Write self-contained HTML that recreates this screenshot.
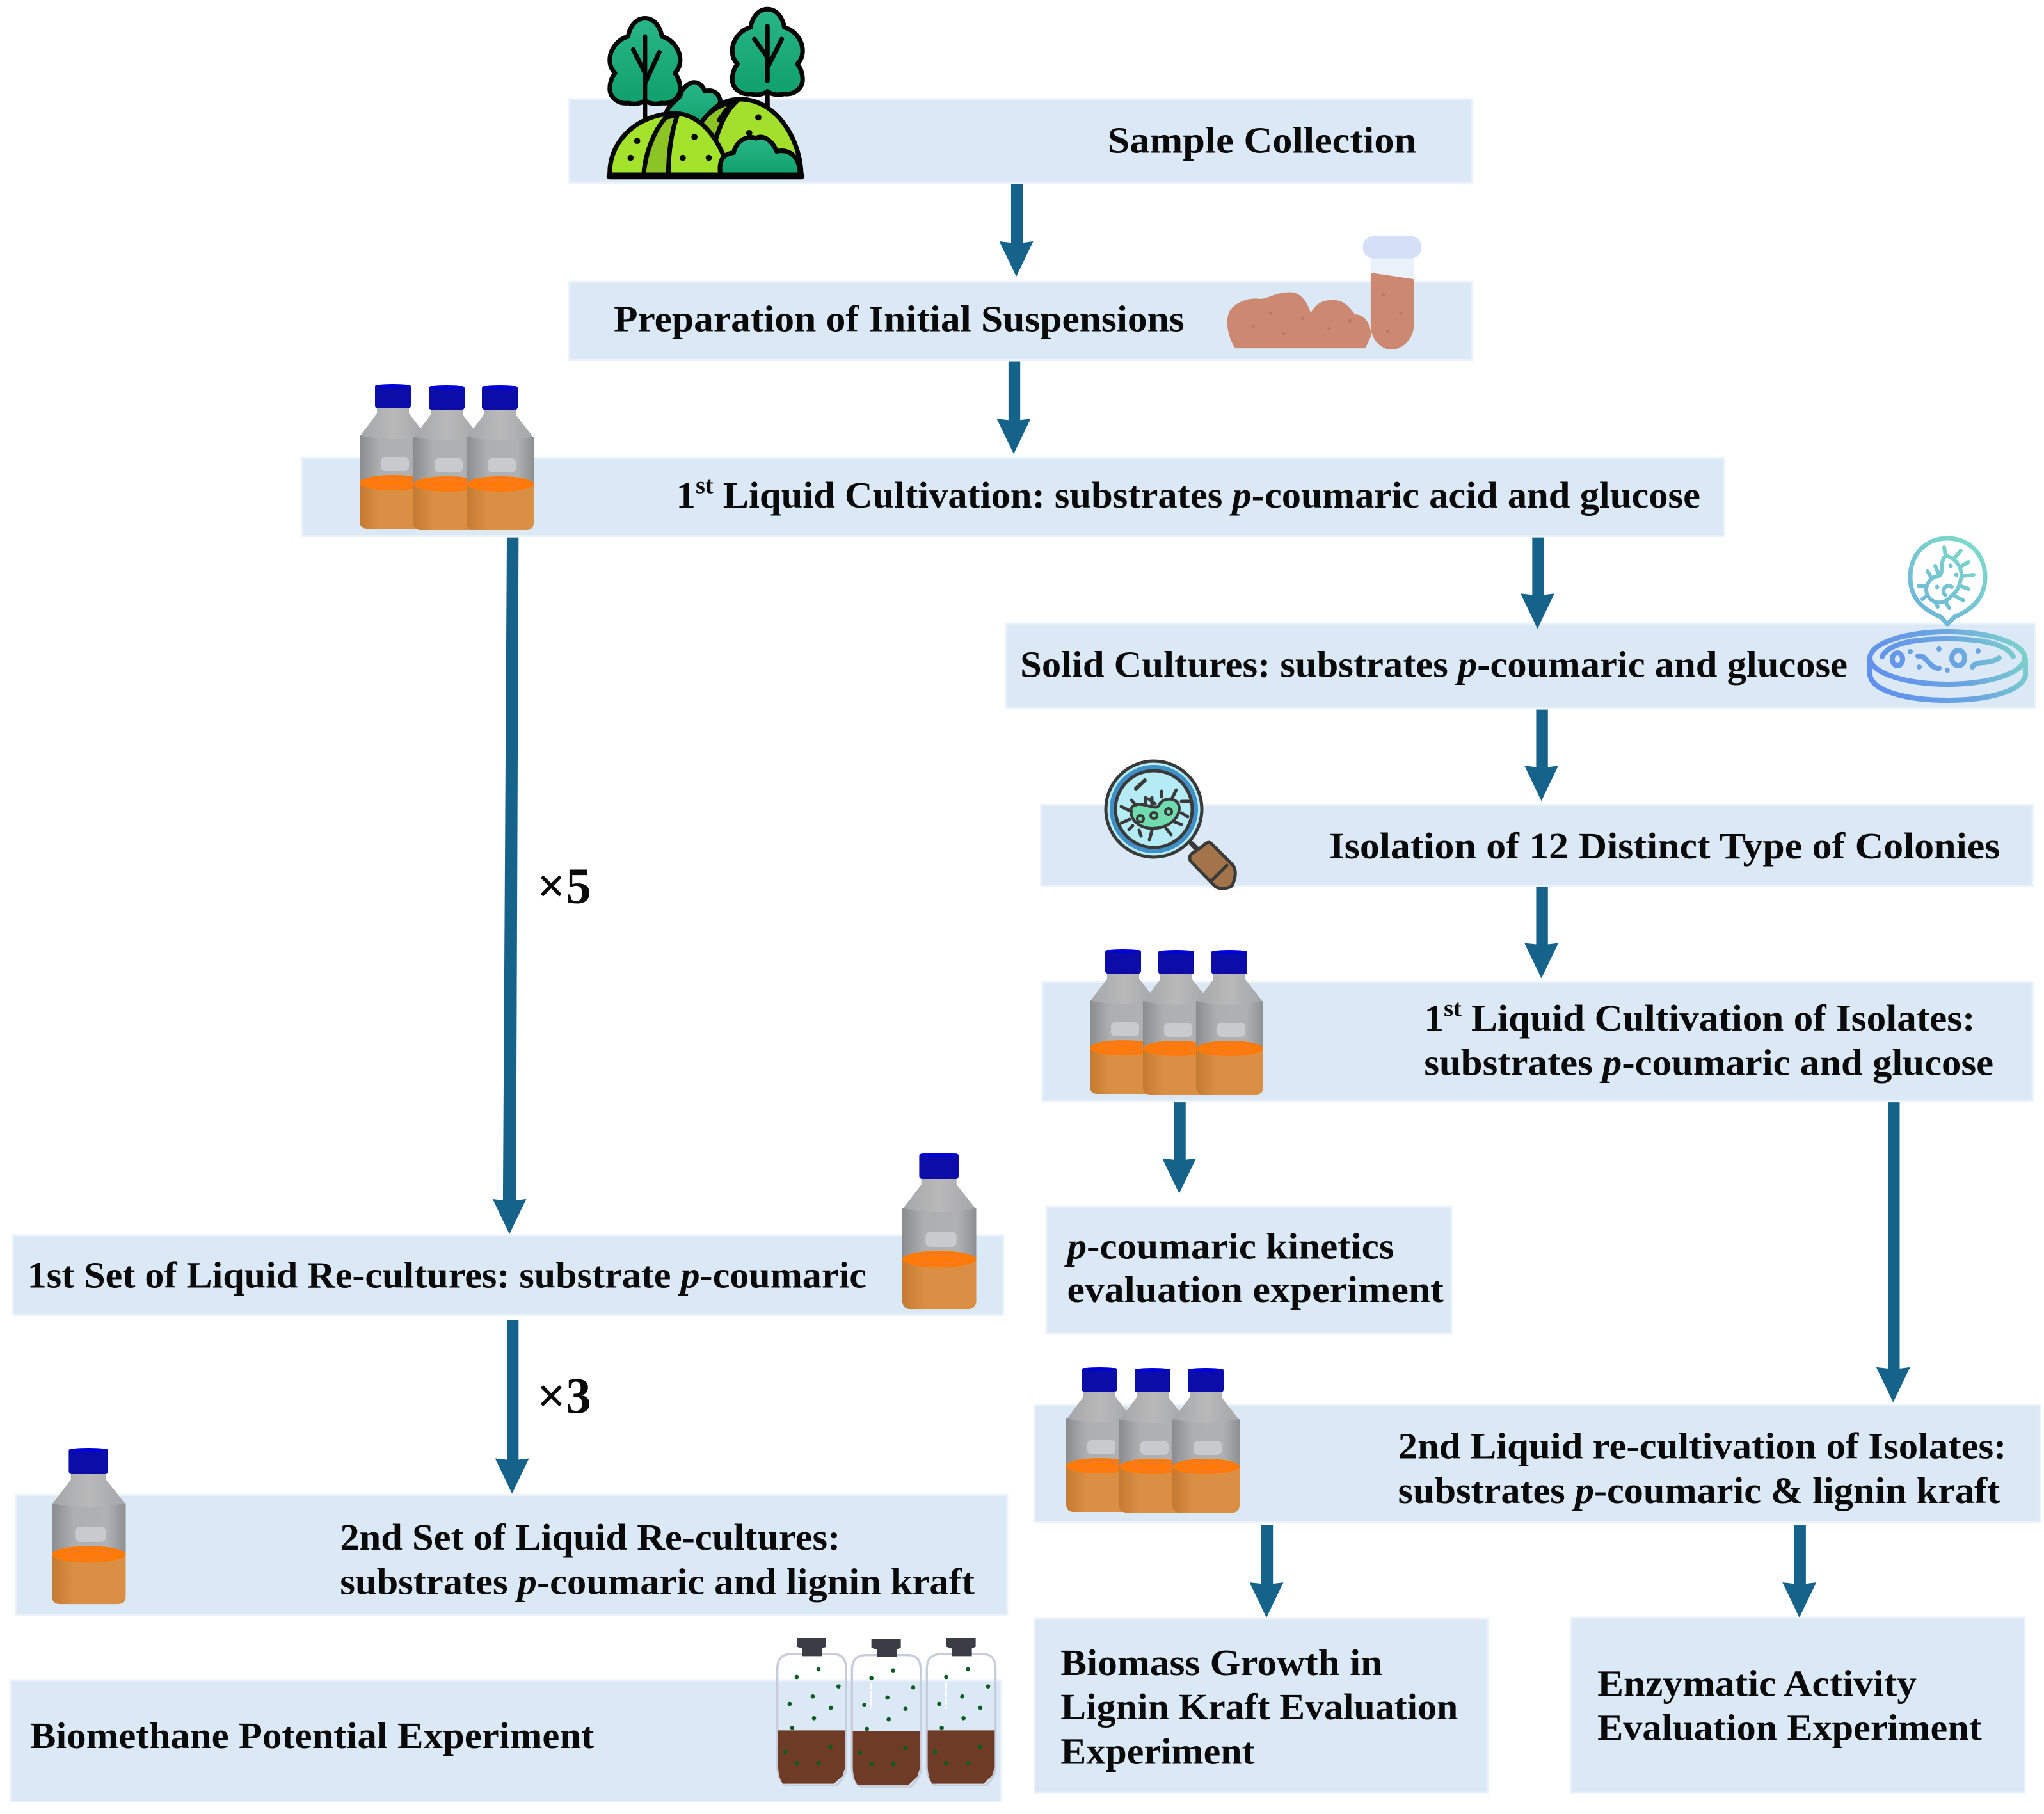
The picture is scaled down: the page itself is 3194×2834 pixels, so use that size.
<!DOCTYPE html>
<html><head><meta charset="utf-8"><title>Workflow diagram</title>
<style>
html,body{margin:0;padding:0;background:#fff}
svg{display:block}
.t{font-family:"Liberation Serif",serif;font-weight:bold;font-size:28.5px;fill:#0a0a0a}
.t tspan.i{font-style:italic}
.b{fill:#dbe8f6;stroke:#eaf2fa;stroke-width:1.5}
.x{font-family:"Liberation Serif",serif;font-weight:bold;font-size:39px;fill:#0a0a0a}
</style></head><body>
<svg xmlns="http://www.w3.org/2000/svg" width="3194" height="2834" viewBox="0 0 3194 2834">
<defs>
<linearGradient id="gg" x1="0" x2="1" y1="0" y2="0"><stop offset="0" stop-color="#8b8c8e"/><stop offset=".3" stop-color="#aeafb0"/><stop offset=".75" stop-color="#b0b1b2"/><stop offset="1" stop-color="#8e8f91"/></linearGradient>
<linearGradient id="gs" x1="0" x2="1" y1="0" y2="0"><stop offset="0" stop-color="#a5a6a7"/><stop offset=".5" stop-color="#b9b9ba"/><stop offset="1" stop-color="#a5a6a7"/></linearGradient>
<linearGradient id="go" x1="0" x2="1" y1="0" y2="0"><stop offset="0" stop-color="#c47a30"/><stop offset=".3" stop-color="#da8f44"/><stop offset="1" stop-color="#da8f44"/></linearGradient>
<linearGradient id="pet" gradientUnits="userSpaceOnUse" x1="2920" y1="1100" x2="3166" y2="980"><stop offset="0" stop-color="#5e8df0"/><stop offset=".55" stop-color="#6aa4e2"/><stop offset="1" stop-color="#7fd9c8"/></linearGradient>
<linearGradient id="bub" gradientUnits="userSpaceOnUse" x1="2990" y1="975" x2="3100" y2="840"><stop offset="0" stop-color="#6cb0dc"/><stop offset="1" stop-color="#7fdfc6"/></linearGradient>
<linearGradient id="leaf" x1="0" x2="0" y1="0" y2="1"><stop offset="0" stop-color="#2ab688"/><stop offset="1" stop-color="#0fa06c"/></linearGradient>
<g id="bot">
 <path d="M27 36H77V46L105 82V160H0V82L27 46Z" fill="url(#gs)"/>
 <path d="M0 80Q52 92 105 80V160H0Z" fill="url(#gg)"/>
 <rect x="33" y="114" width="44" height="22" rx="7" fill="#c9cacd"/>
 <path d="M0 154H105V214Q105 226 93 226H12Q0 226 0 214Z" fill="url(#go)"/>
 <ellipse cx="52.500" cy="154" rx="52.500" ry="12" fill="#ff7a08"/>
 <ellipse cx="52.500" cy="154" rx="30" ry="6.500" fill="none" stroke="#f57a35" stroke-width="1.500"/>
 <rect x="24" y="1" width="56" height="37" rx="4" fill="#0c0ca8"/>
 <ellipse cx="52" cy="3" rx="28" ry="3" fill="#0000d8"/>
</g>
<g id="vial">
 <path d="M194 320Q194 252 262 252H455Q516 252 516 320V785Q516 825 470 868H235Q200 850 194 785Z" fill="none" stroke="#c6ccdc" stroke-width="10"/>
 <path d="M198 610H512V785L500 822L460 860H220Q200 835 198 780Z" fill="#6e3b26"/>
 <path d="M285 177H423V218L405 226V262H310V226L285 218Z" fill="#3b3d45"/>
 <g fill="#0a5c22">
 <circle cx="387" cy="324" r="10"/><circle cx="285" cy="360" r="10"/><circle cx="481" cy="404" r="10"/><circle cx="360" cy="451" r="10"/><circle cx="252" cy="486" r="10"/><circle cx="445" cy="504" r="10"/><circle cx="366" cy="553" r="10"/><circle cx="264" cy="598" r="10"/><circle cx="232" cy="710" r="10"/><circle cx="443" cy="687" r="10"/><circle cx="285" cy="763" r="10"/><circle cx="388" cy="763" r="10"/>
 </g>
</g>
<path id="can" d="M27 0C35 0 39 8 40 14C48 16 54 24 54 32C54 37 52 40 50 42C53 46 54 50 54 54C54 61 47 66 40 65C36 66 31 66 27 63C23 66 18 66 14 65C7 66 0 61 0 54C0 50 1 46 4 42C2 40 0 37 0 32C0 24 6 16 14 14C15 8 19 0 27 0Z" fill="url(#leaf)" stroke="#050505" stroke-width="3.500"/>
</defs>

<rect width="3194" height="2834" fill="#fff"/>

<g transform="scale(2.036 2.038)">
 <!-- bands -->
 <rect class="b" x="437" y="76" width="693" height="64"/>
 <rect class="b" x="437" y="216" width="693" height="60"/>
 <rect class="b" x="232" y="351" width="1091" height="60"/>
 <rect class="b" x="772" y="478" width="790" height="65"/>
 <rect class="b" x="799" y="617" width="761" height="62"/>
 <rect class="b" x="800" y="753" width="760" height="91"/>
 <rect class="b" x="803" y="925" width="311" height="97"/>
 <rect class="b" x="794" y="1077" width="772" height="90"/>
 <rect class="b" x="794" y="1241" width="348" height="133"/>
 <rect class="b" x="1206" y="1240" width="348" height="134"/>
 <rect class="b" x="10" y="947" width="760" height="61"/>
 <rect class="b" x="12" y="1146" width="761" height="92"/>
 <rect class="b" x="8" y="1288" width="760" height="93"/>

 <!-- arrows -->
 <g fill="#15638a">
  <path d="M776 141H785V186L793 185L780 212L767 185L776 186Z"/>
  <path d="M774 277H783V322L791 321L778 348L765 321L774 322Z"/>
  <path d="M1176 412H1185V456L1193 455L1180 482L1167 455L1176 456Z"/>
  <path d="M1179 544H1188V588L1196 587L1183 614L1170 587L1179 588Z"/>
  <path d="M1179 680H1188V724L1196 723L1183 750L1170 723L1179 724Z"/>
  <path d="M389 412H398L396 920L404 919L391 946L378 919L386 920Z"/>
  <path d="M389 1012H398V1119L406 1118L393 1145L380 1118L389 1119Z"/>
  <path d="M901 845H910V889L918 888L905 915L892 888L901 889Z"/>
  <path d="M1449 845H1458V1049L1466 1048L1453 1075L1440 1048L1449 1049Z"/>
  <path d="M968 1169H977V1214L985 1213L972 1240L959 1213L968 1214Z"/>
  <path d="M1377 1169H1386V1214L1394 1213L1381 1240L1368 1213L1377 1214Z"/>
 </g>

 <!-- trees and hills -->
 <g stroke="#050505" stroke-width="3.500" stroke-linecap="round" stroke-linejoin="round">
  <path d="M495 66V92M589 60V82" fill="none"/>
  <use href="#can" x="468" y="14"/>
  <use href="#can" x="562" y="7"/>
  <path d="M495 28V78M495 56L486 38M495 64L506 40M589 20V62M589 44L579 30M589 52L600 30" fill="none"/>
  <path d="M510 90C514 76 522 78 523 70C530 60 538 62 541 70C548 68 552 72 553 78L540 100Z" fill="url(#leaf)"/>
  <path d="M530 132C530 100 545 76 568 76C594 76 614 104 615 134Z" fill="#a3e02c"/>
  <path d="M536 98C542 86 552 80 566 77C558 84 552 96 548 112L544 116Z" fill="#8cc426"/>
  <path d="M552 92C556 86 560 80 566 77" fill="none"/>
  <path d="M468 134C467 108 490 87 518 87C538 87 554 108 560 134Z" fill="#a3e32b"/>
  <path d="M494 134C495 118 502 100 511 90L520 88C515 102 513 118 513 134Z" fill="#8cc426"/>
  <path d="M468 135H615" fill="none" stroke-width="5"/>
  <path d="M553 134C551 122 556 118 563 117C566 106 575 104 580 106C586 103 593 108 596 116C606 114 614 120 614 134Z" fill="url(#leaf)"/>
 </g>
 <g fill="#050505">
  <circle cx="489" cy="108" r="2.400"/><circle cx="484" cy="121" r="2.400"/><circle cx="533" cy="105" r="2.400"/><circle cx="524" cy="121" r="2.400"/><circle cx="544" cy="121" r="2.400"/><circle cx="582" cy="90" r="2.400"/><circle cx="575" cy="102" r="2.400"/>
 </g>

 <!-- soil and tube -->
 <path d="M948 267C942 258 940 245 944 238C948 232 958 228 966 229C972 230 978 224 990 224C1000 224 1004 234 1006 240C1010 232 1016 230 1023 230C1032 230 1036 236 1040 241C1048 241 1053 250 1052 258L1048 267Z" fill="#cd8871"/>
 <rect x="1052" y="195" width="33" height="25" fill="#e9f1fb"/>
 <path d="M1052 209L1085 214V250C1085 260 1076 268 1068 268C1060 268 1052 260 1052 250Z" fill="#cd8871"/>
 <rect x="1046" y="181" width="45" height="17" rx="8" fill="#d5e0f7"/>
 <g fill="#bd7460">
  <circle cx="962" cy="250" r="1.200"/><circle cx="975" cy="240" r="1.200"/><circle cx="985" cy="256" r="1.200"/><circle cx="1000" cy="244" r="1.200"/><circle cx="1020" cy="252" r="1.200"/><circle cx="1036" cy="246" r="1.200"/><circle cx="1062" cy="226" r="1.200"/><circle cx="1075" cy="240" r="1.200"/><circle cx="1065" cy="254" r="1.200"/>
 </g>

 <!-- text -->
 <text class="t" x="850" y="117" textLength="237" lengthAdjust="spacingAndGlyphs">Sample Collection</text>
 <text class="t" x="471" y="254" textLength="438" lengthAdjust="spacingAndGlyphs">Preparation of Initial Suspensions</text>
 <text class="t" x="519" y="389" textLength="786" lengthAdjust="spacingAndGlyphs">1<tspan dy="-11" font-size="18">st</tspan><tspan dy="11"> Liquid Cultivation: substrates </tspan><tspan class="i">p</tspan>-coumaric acid and glucose</text>
 <text class="t" x="783" y="519" textLength="635" lengthAdjust="spacingAndGlyphs">Solid Cultures: substrates <tspan class="i">p</tspan>-coumaric and glucose</text>
 <text class="t" x="1020" y="658" textLength="515" lengthAdjust="spacingAndGlyphs">Isolation of 12 Distinct Type of Colonies</text>
 <text class="t" x="1093" y="790" textLength="423" lengthAdjust="spacingAndGlyphs">1<tspan dy="-11" font-size="18">st</tspan><tspan dy="11"> Liquid Cultivation of Isolates:</tspan></text>
 <text class="t" x="1093" y="824" textLength="437" lengthAdjust="spacingAndGlyphs">substrates <tspan class="i">p</tspan>-coumaric and glucose</text>
 <text class="t" x="819" y="965" textLength="251" lengthAdjust="spacingAndGlyphs"><tspan class="i">p</tspan>-coumaric kinetics</text>
 <text class="t" x="819" y="998" textLength="289" lengthAdjust="spacingAndGlyphs">evaluation experiment</text>
 <text class="t" x="1073" y="1118" textLength="467" lengthAdjust="spacingAndGlyphs">2nd Liquid re-cultivation of Isolates:</text>
 <text class="t" x="1073" y="1152" textLength="462" lengthAdjust="spacingAndGlyphs">substrates <tspan class="i">p</tspan>-coumaric &amp; lignin kraft</text>
 <text class="t" x="814" y="1284" textLength="247" lengthAdjust="spacingAndGlyphs">Biomass Growth in</text>
 <text class="t" x="814" y="1318" textLength="305" lengthAdjust="spacingAndGlyphs">Lignin Kraft Evaluation</text>
 <text class="t" x="814" y="1352" textLength="149" lengthAdjust="spacingAndGlyphs">Experiment</text>
 <text class="t" x="1226" y="1300" textLength="245" lengthAdjust="spacingAndGlyphs">Enzymatic Activity</text>
 <text class="t" x="1226" y="1334" textLength="295" lengthAdjust="spacingAndGlyphs">Evaluation Experiment</text>
 <text class="t" x="21" y="987" textLength="644" lengthAdjust="spacingAndGlyphs">1st Set of Liquid Re-cultures: substrate <tspan class="i">p</tspan>-coumaric</text>
 <text class="t" x="261" y="1188" textLength="384" lengthAdjust="spacingAndGlyphs">2nd Set of Liquid Re-cultures:</text>
 <text class="t" x="261" y="1222" textLength="487" lengthAdjust="spacingAndGlyphs">substrates <tspan class="i">p</tspan>-coumaric and lignin kraft</text>
 <text class="t" x="23" y="1340" textLength="433" lengthAdjust="spacingAndGlyphs">Biomethane Potential Experiment</text>
 <text class="x" x="412" y="692">×5</text>
 <text class="x" x="412" y="1083">×3</text>
</g>

<!-- bottles -->
<use href="#bot" x="562" y="600"/><use href="#bot" x="646" y="602"/><use href="#bot" x="729" y="602"/>
<use href="#bot" x="1703" y="1483"/><use href="#bot" x="1786" y="1484"/><use href="#bot" x="1869" y="1484"/>
<use href="#bot" x="1666" y="2136"/><use href="#bot" x="1749" y="2137"/><use href="#bot" x="1832" y="2137"/>
<use href="#bot" transform="translate(1410 1801) scale(1.100 1.080)"/>
<use href="#bot" transform="translate(81 2262) scale(1.100 1.080)"/>

<!-- vials -->
<g transform="translate(1150 2500) scale(.3333)">
 <use href="#vial"/>
 <use href="#vial" x="350" y="5"/>
 <use href="#vial" x="701"/>
 <g stroke="#fff" stroke-width="9" stroke-dasharray="30 8" fill="none">
  <path d="M634 388V510M985 385V510"/>
 </g>
</g>

<!-- petri dish -->
<g fill="none" stroke="url(#pet)" stroke-width="8" stroke-linecap="round">
 <ellipse cx="3043" cy="1028" rx="121" ry="41"/>
 <path d="M2941 1026C2950 1006 2990 998 3043 998C3096 998 3136 1006 3146 1026"/>
 <path d="M2922 1030V1055C2926 1080 2980 1094 3043 1094C3106 1094 3160 1080 3165 1055V1030"/>
 <ellipse cx="2965" cy="1030" rx="8" ry="10"/>
 <ellipse cx="3060" cy="1028" rx="10" ry="12"/>
 <path d="M2997 1025C3010 1022 3015 1045 3030 1044M3082 1042C3090 1030 3105 1040 3124 1028"/>
</g>
<g fill="#6aa4e2"><circle cx="2985" cy="1018" r="4"/><circle cx="3030" cy="1014" r="4"/><circle cx="2999" cy="1042" r="4"/><circle cx="3043" cy="1047" r="4"/><circle cx="3091" cy="1017" r="4"/></g>
<g fill="none" stroke="url(#bub)" stroke-width="7" stroke-linecap="round" stroke-linejoin="round">
 <path d="M3043 975L3033 964C2999 950 2985 930 2985 902C2985 865 3010 841 3043 841C3076 841 3102 865 3102 902C3102 930 3087 950 3054 964Z"/>
 <path d="M3040 868C3058 872 3068 890 3064 905C3062 915 3058 925 3050 930C3040 945 3020 945 3012 930C3005 915 3018 900 3030 900C3038 895 3030 880 3040 868Z" stroke-width="6"/>
 <path d="M3040 868L3038 855M3054 872L3064 860M3064 885L3076 878M3066 900L3084 898M3062 915L3076 920M3052 930L3068 938M3040 940L3046 950M3024 940L3028 948M3012 930L3004 936M3010 915L2998 915M3018 903L3012 892M3030 898L3024 884M3050 917A7 7 0 1 0 3040 930" stroke-width="6"/>
</g>
<g fill="#76c4d4"><circle cx="3048" cy="884" r="3.500"/><circle cx="3057" cy="898" r="3.500"/><circle cx="3027" cy="917" r="3.500"/></g>

<!-- magnifier -->
<g stroke="#3a3a3a" stroke-linejoin="round" stroke-linecap="round">
 <path d="M1862 1318L1872 1328" stroke-width="8" fill="none"/>
 <path d="M1878 1323C1884 1317 1889 1314 1893 1318L1925 1350C1932 1357 1932 1370 1925 1384C1918 1389 1905 1389 1899 1385L1861 1346C1858 1342 1858 1337 1863 1333Z" fill="#a3744a" stroke-width="5"/>
 <path d="M1892 1377L1917 1352" stroke-width="5" fill="none"/>
 <circle cx="1803" cy="1264" r="75" fill="#b5ebf5" stroke-width="5"/>
 <circle cx="1803" cy="1264" r="65" fill="none" stroke="#3f8fc9" stroke-width="8"/>
 <circle cx="1803" cy="1264" r="60" fill="none" stroke-width="5"/>
 <path d="M1767 1265C1770 1253 1785 1256 1798 1260C1806 1262 1810 1262 1812 1256C1818 1246 1838 1245 1842 1258C1846 1272 1832 1292 1805 1294C1785 1296 1766 1284 1767 1265Z" fill="#6fdcb0" stroke-width="4.500"/>
 <path d="M1768 1268L1752 1260M1765 1280L1752 1286M1770 1290L1764 1296M1780 1297L1783 1306M1800 1298L1796 1312M1822 1294L1830 1304M1835 1284L1846 1288M1846 1270L1856 1276M1846 1252L1858 1252M1832 1246L1838 1234M1815 1245L1815 1236M1800 1258L1800 1246M1790 1256L1790 1246M1775 1258L1768 1250M1805 1256L1795 1248" stroke-width="5" fill="none"/>
 <path d="M1775 1232L1790 1218" stroke-width="6" fill="none" stroke-dasharray="5 2"/>
 <circle cx="1782" cy="1279" r="5" fill="none" stroke-width="4"/>
 <circle cx="1803" cy="1274" r="5" fill="none" stroke-width="4"/>
 <circle cx="1826" cy="1268" r="5" fill="none" stroke-width="4"/>
</g>
</svg>
</body></html>
